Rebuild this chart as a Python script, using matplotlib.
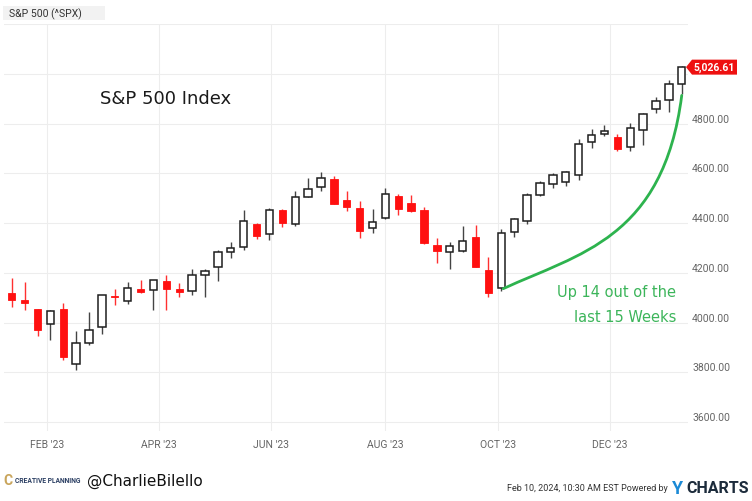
import datetime as dt
import numpy as np
import matplotlib
matplotlib.use("Agg")
import matplotlib.pyplot as plt
import matplotlib.dates as mdates
from matplotlib.patches import Polygon, Rectangle, PathPatch
from matplotlib.path import Path

plt.rcParams['font.family'] = ['Roboto', 'DejaVu Sans']

# ---------------- data (weekly candles, week-ending Fridays) ----------------
first_week = "2023-02-10"
prev_close = 4136.5
opens = [4119.6, 4090.1, 4052.4, 3992.4, 4055.2, 3835.1, 3917.5, 3982.9, 4102.2, 4085.2,
         4123.3, 4132.1, 4166.8, 4136.0, 4126.7, 4190.8, 4224.0, 4283.0, 4304.9, 4396.1,
         4354.2, 4450.5, 4394.2, 4505.4, 4543.4, 4578.8, 4491.6, 4459.5, 4382.0, 4420.0,
         4510.1, 4482.0, 4453.8, 4312.9, 4284.5, 4289.0, 4342.4, 4210.4, 4139.4, 4364.3,
         4407.4, 4511.0, 4554.9, 4564.4, 4593.4, 4725.6, 4758.9, 4745.2, 4703.7, 4772.4,
         4856.8, 4893.0, 4957.2]
highs = [4179.0, 4162.0, 4052.4, 4050.0, 4078.5, 3967.0, 4043.0, 4110.8, 4134.0, 4163.2,
         4171.0, 4170.4, 4190.0, 4157.0, 4215.0, 4215.0, 4290.7, 4322.6, 4452.0, 4400.2,
         4458.5, 4456.5, 4530.0, 4581.0, 4607.1, 4590.0, 4530.0, 4490.3, 4458.3, 4541.3,
         4517.0, 4512.0, 4463.0, 4339.0, 4325.0, 4387.0, 4393.6, 4262.0, 4374.6, 4419.0,
         4522.0, 4570.0, 4601.0, 4610.0, 4738.6, 4778.0, 4793.3, 4756.0, 4802.4, 4842.1,
         4906.7, 4975.3, 5030.1]
lows = [4061.0, 4050.0, 3947.0, 3930.0, 3849.0, 3810.0, 3909.0, 3953.0, 4071.0, 4072.6,
        4118.0, 4050.0, 4050.0, 4101.0, 4110.0, 4104.0, 4168.0, 4261.1, 4290.6, 4335.0,
        4332.0, 4385.1, 4389.9, 4503.1, 4530.0, 4474.6, 4447.0, 4338.0, 4360.0, 4415.0,
        4430.5, 4446.3, 4316.5, 4238.6, 4216.5, 4283.8, 4223.0, 4103.8, 4126.3, 4343.0,
        4395.0, 4510.4, 4540.0, 4550.0, 4574.1, 4700.0, 4751.0, 4688.0, 4690.0, 4714.8,
        4844.1, 4845.2, 4918.1]
closes = [4090.5, 4079.1, 3970.0, 4045.6, 3861.6, 3916.6, 3971.0, 4109.3, 4105.0, 4137.6,
          4133.5, 4169.5, 4136.3, 4124.1, 4192.0, 4205.5, 4282.4, 4298.9, 4409.6, 4348.3,
          4450.4, 4399.0, 4505.4, 4536.3, 4582.2, 4478.0, 4464.1, 4369.7, 4405.7, 4515.8,
          4457.5, 4450.3, 4320.1, 4288.1, 4308.5, 4327.8, 4224.2, 4117.4, 4358.3, 4415.2,
          4514.0, 4559.3, 4594.6, 4604.4, 4719.2, 4754.6, 4769.8, 4697.2, 4783.8, 4839.8,
          4891.0, 4958.6, 5026.61]
xtick_dates = ["2023-03-01", "2023-05-01", "2023-07-01", "2023-09-01", "2023-11-01", "2024-01-01"]
xtick_labels = ["FEB '23", "APR '23", "JUN '23", "AUG '23", "OCT '23", "DEC '23"]
ytick_values = [3600, 3800, 4000, 4200, 4400, 4600, 4800, 5000, 5200]
ytick_labels = ["3600.00", "3800.00", "4000.00", "4200.00", "4400.00", "4600.00", "4800.00", "", ""]
title_text = "S&P 500 (^SPX)"
inner_title = "S&P 500 Index"
note_lines = ["Up 14 out of the", "last 15 Weeks"]
last_label = "5,026.61"
# annotation curve (cubic bezier control points: date, value)
curve_dates = ["2023-11-04", "2023-12-15", "2024-01-30", "2024-02-09"]
curve_values = [4136, 4276, 4337, 4913]

# ---------------- figure ----------------
W, H = 752, 502
fig = plt.figure(figsize=(W / 100, H / 100), dpi=100)
ax_l, ax_r, ax_t, ax_b = 4, 688, 25, 432
ax = fig.add_axes([ax_l / W, 1 - ax_b / H, (ax_r - ax_l) / W, (ax_b - ax_t) / H])

n = len(closes)
start = mdates.date2num(dt.datetime.strptime(first_week, "%Y-%m-%d"))
x = start + 7 * np.arange(n)
o = np.array(opens); hi = np.array(highs); lo = np.array(lows); c = np.array(closes)
prev = np.concatenate([[prev_close], c[:-1]])
down = c < prev

red = '#ff1010'
edge_dark = '#1e1e1e'
width = 4.0
for i in range(n):
    top = max(o[i], c[i]); bot = min(o[i], c[i])
    if down[i]:
        ax.vlines(x[i], lo[i], hi[i], color='#ff3030', lw=1.0, zorder=2)
        ax.bar(x[i], max(top - bot, 1.0), bottom=bot, width=width, color=red,
               edgecolor=red, linewidth=0.6, zorder=3)
    else:
        ax.vlines(x[i], lo[i], hi[i], color='#444444', lw=1.0, zorder=2)
        ax.bar(x[i], max(top - bot, 1.0), bottom=bot, width=width, facecolor='white',
               edgecolor=edge_dark, linewidth=1.1, zorder=3)

ax.set_xlim(start - 4.2, x[-1] + 3.4)
ymin, ymax = 3564, 5200
ax.set_ylim(ymin, ymax)

xt = [mdates.date2num(dt.datetime.strptime(d, "%Y-%m-%d")) for d in xtick_dates]
ax.set_xticks(xt)
ax.set_xticklabels(xtick_labels)
ax.set_yticks(ytick_values)
ax.set_yticklabels(ytick_labels)
ax.yaxis.tick_right()
ax.tick_params(axis='both', length=0, colors='#666666', labelsize=7.5)
ax.tick_params(axis='y', pad=3)
ax.tick_params(axis='x', pad=6)
for lbl in ax.get_yticklabels():
    lbl.set_verticalalignment('bottom')
ax.grid(True, color='#ededed', lw=0.8, zorder=0)
ax.set_axisbelow(True)
for s in ax.spines.values():
    s.set_visible(False)

# annotation curve
cx = [mdates.date2num(dt.datetime.strptime(d, "%Y-%m-%d")) for d in curve_dates]
path = Path(list(zip(cx, curve_values)), [Path.MOVETO, Path.CURVE4, Path.CURVE4, Path.CURVE4])
ax.add_patch(PathPatch(path, fill=False, edgecolor='#2db34e', lw=2.0, zorder=4, capstyle='round'))

green = '#3cb55a'
fig.text(676 / W, 1 - 292 / H, note_lines[0], ha='right', va='center', fontsize=10.5,
         color=green, family=['DejaVu Sans'])
fig.text(676 / W, 1 - 318 / H, note_lines[1], ha='right', va='center', fontsize=10.5,
         color=green, family=['DejaVu Sans'])

fig.text(100 / W, 1 - 99 / H, inner_title, ha='left', va='center', fontsize=13,
         color='#1a1a1a', family=['DejaVu Sans'])

# title bar
fig.patches.append(Rectangle((3 / W, 1 - 21 / H), 102 / W, 14 / H, transform=fig.transFigure,
                             facecolor='#f2f2f2', edgecolor='none'))
fig.text(9 / W, 1 - 14 / H, title_text, ha='left', va='center', fontsize=7.5, color='#333333')

# last price tag
yf = 1 - ax_b / H + (closes[-1] - ymin) / (ymax - ymin) * (ax_b - ax_t) / H
hh = 7.5 / H
pts = [(686 / W, yf), (692 / W, yf + hh), (737 / W, yf + hh), (737 / W, yf - hh), (692 / W, yf - hh)]
fig.patches.append(Polygon(pts, closed=True, transform=fig.transFigure, facecolor='#ee1111',
                           edgecolor='none'))
fig.text(714.5 / W, yf, last_label, ha='center', va='center', fontsize=7.5, color='white',
         fontweight='bold')

# footer
fig.text(3 / W, 1 - 481 / H, "C", ha='left', va='center', fontsize=10, color='#c9a55c',
         fontweight='bold')
fig.text(15 / W, 1 - 481 / H, "CREATIVE PLANNING", ha='left', va='center', fontsize=4.9,
         color='#2b3f63', fontweight='bold')
fig.text(87 / W, 1 - 481 / H, "@CharlieBilello", ha='left', va='center', fontsize=11,
         color='#111111', family=['DejaVu Sans'])
fig.text(668 / W, 1 - 489 / H, "Feb 10, 2024, 10:30 AM EST Powered by", ha='right', va='center',
         fontsize=6.5, color='#333333')
fig.text(672 / W, 1 - 489 / H, "Y", ha='left', va='center', fontsize=13, color='#1b8ad6',
         fontweight='bold')
fig.text(686 / W, 1 - 489 / H, "CHARTS", ha='left', va='center', fontsize=11.5, color='#1c2b3b',
         fontweight='bold')

fig.savefig("out.png", dpi=100)
